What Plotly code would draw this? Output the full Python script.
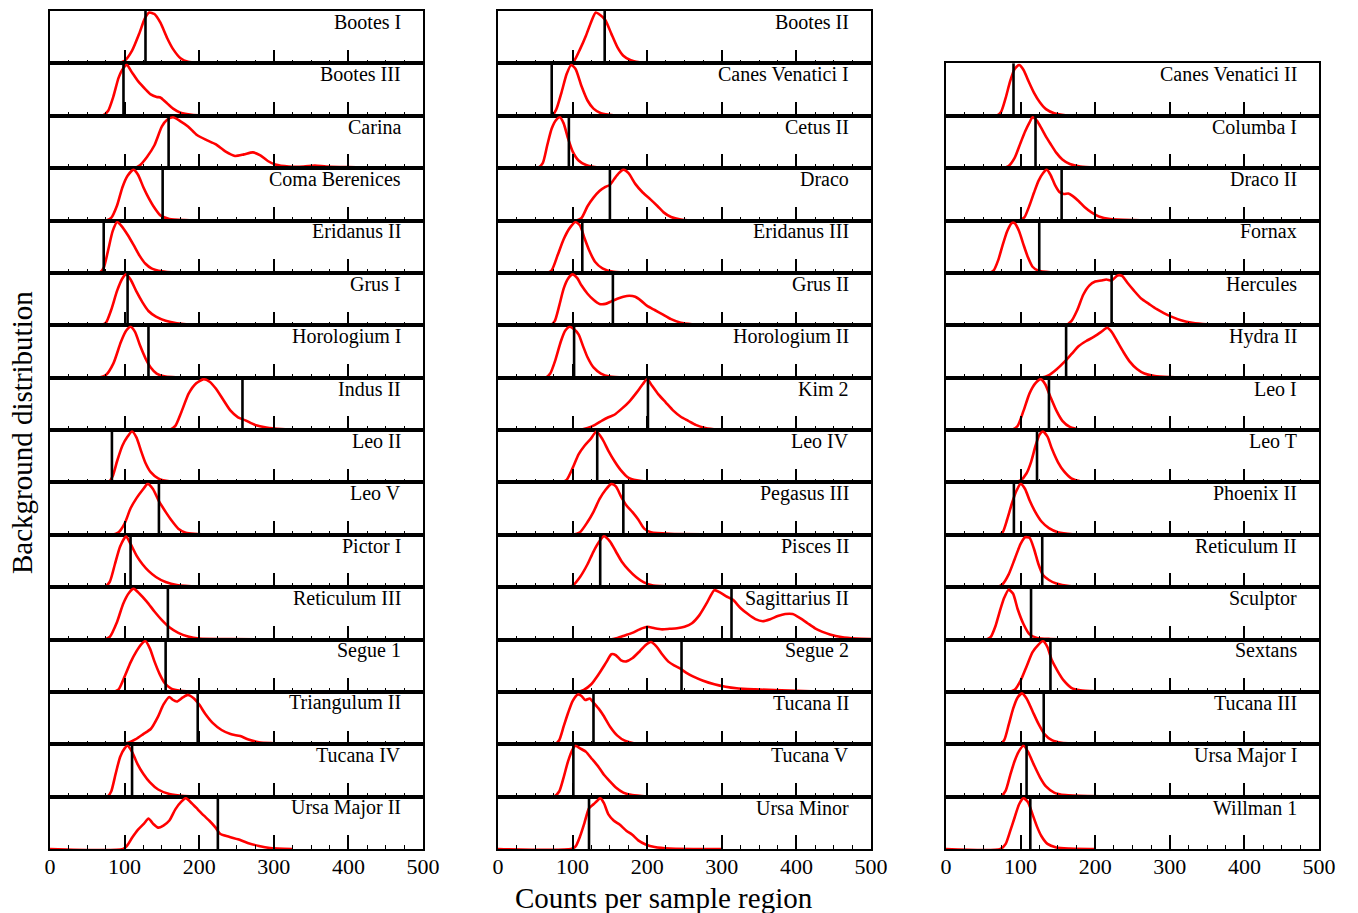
import plotly.graph_objects as go

# ---------------- data: background distributions (x = counts, y = normalised density) -------------
# column 1
bootes_i = [(0,0),(90,0),(100,0.05),(110,0.25),(120,0.6),(127,0.88),(133,1.0),(140,0.97),(148,0.8),(157,0.5),(165,0.28),(175,0.1),(185,0.03),(200,0.01),(240,0)]
bootes_iii = [(0,0),(70,0),(78,0.1),(85,0.38),(92,0.75),(98,0.93),(103,1.0),(110,0.85),(118,0.68),(128,0.52),(135,0.42),(143,0.37),(148,0.36),(155,0.27),(165,0.14),(175,0.06),(190,0.02),(235,0)]
carina = [(0,0),(112,0),(120,0.05),(130,0.22),(140,0.45),(150,0.82),(157,0.95),(165,1.0),(175,0.92),(185,0.82),(197,0.65),(210,0.55),(222,0.47),(235,0.33),(248,0.24),(260,0.27),(272,0.31),(282,0.25),(292,0.14),(302,0.07),(320,0.03),(340,0.03),(355,0.05),(370,0.03),(400,0.02),(440,0)]
coma_berenices = [(0,0),(75,0),(82,0.05),(90,0.3),(97,0.65),(104,0.88),(112,1.0),(118,0.9),(125,0.66),(132,0.45),(140,0.25),(148,0.1),(160,0.03),(180,0.01),(240,0)]
eridanus_ii = [(0,0),(66,0),(72,0.1),(78,0.45),(84,0.82),(90,1.0),(96,0.92),(104,0.75),(112,0.55),(120,0.34),(128,0.18),(136,0.09),(150,0.03),(170,0)]
grus_i = [(0,0),(68,0),(75,0.05),(82,0.3),(90,0.68),(97,0.92),(102,1.0),(108,0.9),(116,0.66),(124,0.45),(132,0.28),(142,0.17),(155,0.09),(170,0.04),(190,0.01),(215,0)]
horologium_i = [(0,0),(66,0),(75,0.05),(85,0.28),(95,0.7),(102,0.92),(108,1.0),(114,0.9),(121,0.62),(128,0.38),(135,0.2),(143,0.08),(155,0.02),(197,0)]
indus_ii = [(0,0),(160,0),(168,0.08),(176,0.35),(186,0.72),(196,0.92),(206,1.0),(214,0.95),(222,0.82),(232,0.6),(242,0.38),(252,0.25),(262,0.19),(275,0.1),(290,0.05),(310,0.02),(354,0)]
leo_ii = [(0,0),(78,0),(84,0.12),(90,0.42),(97,0.72),(104,0.9),(110,1.0),(116,0.88),(122,0.62),(128,0.38),(135,0.2),(145,0.08),(160,0.02),(225,0)]
leo_v = [(0,0),(84,0),(92,0.05),(100,0.22),(108,0.52),(116,0.72),(124,0.88),(131,1.0),(138,0.9),(146,0.66),(155,0.45),(163,0.28),(172,0.12),(182,0.04),(217,0)]
pictor_i = [(0,0),(73,0),(80,0.1),(87,0.45),(94,0.8),(102,1.0),(108,0.85),(116,0.62),(124,0.45),(132,0.32),(142,0.2),(155,0.1),(170,0.04),(200,0.01),(250,0)]
reticulum_iii = [(0,0),(72,0),(80,0.05),(90,0.35),(98,0.7),(106,0.92),(112,1.0),(120,0.9),(130,0.74),(140,0.55),(150,0.38),(160,0.24),(172,0.13),(185,0.06),(200,0.02),(240,0.01),(315,0)]
segue_1 = [(0,0),(84,0),(92,0.05),(100,0.3),(108,0.58),(116,0.8),(122,0.93),(128,1.0),(134,0.85),(140,0.6),(147,0.35),(154,0.17),(162,0.07),(175,0.02),(198,0)]
triangulum_ii = [(0,0),(92,0),(105,0.03),(115,0.1),(125,0.2),(135,0.3),(145,0.55),(152,0.78),(160,0.93),(164,0.88),(170,0.84),(178,0.92),(185,0.97),(193,0.9),(200,0.78),(208,0.6),(218,0.42),(230,0.28),(242,0.2),(255,0.16),(265,0.1),(280,0.04),(300,0.02),(328,0)]
tucana_iv = [(0,0),(77,0),(82,0.1),(88,0.45),(94,0.78),(100,0.95),(104,1.0),(110,0.88),(117,0.65),(125,0.45),(134,0.28),(145,0.14),(160,0.05),(180,0.01),(200,0)]
ursa_major_ii = [(0,0),(98,0),(104,0.08),(110,0.22),(118,0.38),(126,0.5),(132,0.6),(138,0.5),(145,0.42),(152,0.46),(160,0.56),(168,0.78),(176,0.93),(182,1.0),(190,0.9),(198,0.78),(206,0.66),(214,0.55),(222,0.42),(228,0.3),(240,0.24),(252,0.19),(265,0.12),(280,0.06),(295,0.02),(325,0)]

# column 2
bootes_ii = [(0,0),(95,0),(102,0.05),(110,0.28),(118,0.55),(125,0.82),(131,1.0),(137,0.95),(144,0.85),(152,0.58),(160,0.32),(168,0.15),(178,0.06),(195,0.01),(237,0)]
canes_venatici_i = [(0,0),(72,0),(78,0.12),(85,0.45),(92,0.82),(98,1.0),(104,0.92),(112,0.58),(120,0.3),(128,0.14),(138,0.05),(155,0.01),(186,0)]
cetus_ii = [(0,0),(53,0),(60,0.1),(66,0.45),(72,0.78),(78,0.95),(83,1.0),(88,0.88),(94,0.58),(100,0.33),(108,0.15),(118,0.06),(135,0.01),(168,0)]
draco = [(0,0),(105,0),(112,0.05),(120,0.28),(128,0.45),(136,0.58),(144,0.66),(150,0.7),(156,0.82),(162,0.93),(168,1.0),(175,0.93),(184,0.72),(194,0.55),(204,0.42),(214,0.28),(222,0.16),(232,0.07),(245,0.02),(260,0)]
eridanus_iii = [(0,0),(66,0),(72,0.05),(80,0.35),(88,0.66),(96,0.88),(104,1.0),(110,0.93),(116,0.68),(122,0.45),(130,0.22),(140,0.09),(155,0.02),(180,0)]
grus_ii = [(0,0),(70,0),(76,0.08),(82,0.38),(88,0.72),(94,0.92),(100,1.0),(106,0.93),(112,0.78),(120,0.62),(128,0.5),(136,0.42),(144,0.42),(152,0.47),(160,0.52),(168,0.56),(176,0.58),(184,0.56),(192,0.48),(200,0.38),(210,0.3),(220,0.22),(232,0.12),(245,0.05),(260,0.02),(282,0)]
horologium_ii = [(0,0),(64,0),(70,0.08),(77,0.35),(84,0.7),(90,0.92),(96,1.0),(102,0.95),(108,0.85),(114,0.62),(120,0.4),(128,0.2),(138,0.08),(150,0.02),(170,0)]
kim_2 = [(0,0),(108,0),(120,0.04),(130,0.1),(140,0.19),(148,0.25),(156,0.3),(166,0.42),(176,0.56),(186,0.74),(194,0.9),(200,1.0),(206,0.88),(215,0.7),(225,0.54),(235,0.38),(245,0.26),(255,0.18),(265,0.1),(278,0.04),(295,0.01),(310,0)]
leo_iv = [(0,0),(84,0),(92,0.05),(100,0.28),(108,0.55),(116,0.72),(124,0.85),(132,1.0),(140,0.85),(148,0.62),(156,0.42),(164,0.25),(174,0.1),(186,0.04),(200,0.01),(231,0)]
pegasus_iii = [(0,0),(100,0),(110,0.05),(120,0.25),(128,0.45),(136,0.7),(144,0.88),(152,1.0),(158,0.95),(165,0.75),(172,0.58),(180,0.45),(188,0.3),(196,0.12),(205,0.05),(230,0.02),(300,0.01),(408,0)]
pisces_ii = [(0,0),(92,0),(100,0.03),(110,0.2),(120,0.45),(128,0.7),(136,0.9),(142,1.0),(150,0.9),(158,0.7),(166,0.5),(175,0.34),(185,0.2),(195,0.1),(208,0.03),(240,0.01),(500,0)]
sagittarius_ii = [(0,0),(150,0),(160,0.03),(170,0.08),(180,0.13),(190,0.2),(200,0.25),(210,0.22),(220,0.2),(230,0.21),(240,0.22),(250,0.25),(260,0.32),(270,0.48),(280,0.72),(290,0.97),(298,0.92),(306,0.85),(315,0.78),(325,0.62),(335,0.5),(345,0.4),(355,0.36),(365,0.4),(375,0.46),(385,0.5),(395,0.5),(405,0.42),(415,0.32),(425,0.22),(435,0.15),(445,0.1),(460,0.05),(480,0.02),(500,0.01)]
segue_2 = [(0,0),(105,0),(115,0.04),(125,0.15),(135,0.35),(145,0.58),(152,0.74),(158,0.72),(165,0.62),(172,0.6),(180,0.66),(190,0.8),(198,0.92),(205,0.98),(212,0.9),(220,0.74),(228,0.6),(236,0.52),(244,0.46),(252,0.38),(262,0.3),(275,0.22),(290,0.15),(305,0.1),(320,0.07),(345,0.05),(380,0.03),(420,0.01),(495,0)]
tucana_ii = [(0,0),(76,0),(82,0.08),(88,0.35),(94,0.62),(100,0.85),(107,0.98),(112,0.95),(117,0.87),(123,0.9),(128,0.82),(135,0.7),(142,0.55),(150,0.35),(160,0.17),(170,0.07),(182,0.02),(197,0)]
tucana_v = [(0,0),(75,0),(82,0.1),(88,0.38),(94,0.7),(100,0.93),(104,1.0),(110,0.95),(118,0.88),(126,0.74),(134,0.6),(142,0.43),(150,0.3),(158,0.18),(168,0.08),(180,0.03),(200,0)]
ursa_minor = [(0,0),(98,0),(104,0.05),(110,0.25),(116,0.52),(122,0.8),(128,0.88),(133,0.95),(137,1.0),(142,0.9),(148,0.68),(155,0.56),(163,0.48),(172,0.36),(180,0.28),(188,0.17),(198,0.09),(210,0.04),(230,0.01),(300,0)]

# column 3
canes_venatici_ii = [(0,0),(68,0),(74,0.08),(80,0.35),(86,0.68),(92,0.92),(98,1.0),(104,0.9),(110,0.7),(118,0.45),(126,0.26),(134,0.13),(145,0.05),(160,0.01),(180,0)]
columba_i = [(0,0),(76,0),(84,0.04),(92,0.2),(100,0.5),(106,0.72),(112,0.9),(116,1.0),(122,0.93),(128,0.78),(134,0.62),(140,0.48),(148,0.3),(156,0.17),(166,0.08),(180,0.03),(200,0.01),(242,0)]
draco_ii = [(0,0),(98,0),(105,0.06),(112,0.3),(118,0.55),(124,0.78),(130,0.93),(135,1.0),(140,0.9),(146,0.7),(152,0.56),(158,0.52),(164,0.53),(170,0.48),(178,0.38),(186,0.26),(195,0.16),(205,0.08),(220,0.03),(250,0.01),(296,0)]
fornax = [(0,0),(58,0),(64,0.05),(70,0.25),(76,0.55),(82,0.82),(88,0.98),(92,0.98),(98,0.82),(104,0.55),(110,0.3),(116,0.12),(124,0.04),(140,0.01),(162,0)]
hercules = [(0,0),(160,0),(168,0.08),(176,0.3),(184,0.6),(192,0.78),(200,0.86),(208,0.88),(215,0.9),(222,0.88),(230,0.98),(236,0.97),(244,0.82),(252,0.68),(262,0.52),(272,0.42),(282,0.32),(292,0.24),(302,0.17),(315,0.1),(330,0.05),(350,0.02),(395,0)]
hydra_ii = [(0,0),(128,0),(138,0.05),(148,0.16),(158,0.3),(168,0.46),(178,0.62),(188,0.72),(198,0.8),(208,0.9),(216,0.98),(222,0.9),(230,0.7),(238,0.5),(246,0.32),(256,0.17),(266,0.08),(280,0.03),(300,0.01),(320,0)]
leo_i = [(0,0),(88,0),(96,0.08),(104,0.38),(112,0.72),(120,0.92),(127,1.0),(133,0.9),(140,0.65),(148,0.38),(156,0.18),(166,0.06),(180,0.01),(200,0)]
leo_t = [(0,0),(92,0),(100,0.04),(108,0.18),(114,0.4),(120,0.72),(125,0.93),(130,1.0),(136,0.9),(142,0.66),(150,0.4),(158,0.22),(168,0.08),(180,0.02),(193,0)]
phoenix_ii = [(0,0),(70,0),(76,0.05),(82,0.3),(88,0.6),(94,0.85),(100,1.0),(106,0.9),(112,0.68),(120,0.44),(128,0.26),(138,0.13),(150,0.05),(170,0.01),(200,0)]
reticulum_ii = [(0,0),(68,0),(76,0.06),(84,0.25),(92,0.55),(100,0.85),(106,0.98),(112,0.97),(118,0.75),(124,0.45),(130,0.24),(138,0.14),(148,0.07),(165,0.02),(200,0.01),(242,0)]
sculptor = [(0,0),(54,0),(60,0.05),(66,0.25),(72,0.55),(78,0.82),(84,0.98),(90,0.9),(96,0.6),(104,0.3),(112,0.1),(122,0.03),(140,0.01),(172,0)]
sextans = [(0,0),(84,0),(92,0.04),(100,0.22),(108,0.5),(116,0.78),(124,0.93),(130,1.0),(136,0.88),(142,0.62),(150,0.4),(158,0.22),(168,0.08),(180,0.03),(200,0.01),(253,0)]
tucana_iii = [(0,0),(72,0),(78,0.08),(84,0.38),(90,0.7),(96,0.92),(102,1.0),(108,0.9),(116,0.65),(124,0.4),(132,0.2),(142,0.08),(155,0.03),(197,0)]
ursa_major_i = [(0,0),(73,0),(80,0.12),(86,0.42),(92,0.7),(98,0.9),(104,1.0),(110,0.88),(118,0.62),(126,0.38),(134,0.2),(145,0.08),(160,0.03),(190,0.01),(270,0)]
willman_1 = [(0,0),(73,0),(80,0.1),(86,0.35),(92,0.62),(98,0.88),(104,1.0),(110,0.92),(116,0.68),(122,0.44),(128,0.25),(136,0.1),(148,0.03),(165,0.01),(200,0)]

# panel names, observed counts (black lines) and curves, per column
col1_names = ["Bootes I", "Bootes III", "Carina", "Coma Berenices", "Eridanus II", "Grus I",
              "Horologium I", "Indus II", "Leo II", "Leo V", "Pictor I", "Reticulum III",
              "Segue 1", "Triangulum II", "Tucana IV", "Ursa Major II"]
col1_obs = [128, 98.5, 159, 151, 72, 104, 132, 258, 83, 146, 108, 158, 155, 198, 110, 225]
col1_curves = [bootes_i, bootes_iii, carina, coma_berenices, eridanus_ii, grus_i, horologium_i,
               indus_ii, leo_ii, leo_v, pictor_i, reticulum_iii, segue_1, triangulum_ii,
               tucana_iv, ursa_major_ii]

col2_names = ["Bootes II", "Canes Venatici I", "Cetus II", "Draco", "Eridanus III", "Grus II",
              "Horologium II", "Kim 2", "Leo IV", "Pegasus III", "Pisces II", "Sagittarius II",
              "Segue 2", "Tucana II", "Tucana V", "Ursa Minor"]
col2_obs = [143, 72, 95, 150, 113, 154, 102, 201, 133, 168, 137, 313, 246, 128, 101, 122]
col2_curves = [bootes_ii, canes_venatici_i, cetus_ii, draco, eridanus_iii, grus_ii, horologium_ii,
               kim_2, leo_iv, pegasus_iii, pisces_ii, sagittarius_ii, segue_2, tucana_ii,
               tucana_v, ursa_minor]

col3_names = ["Canes Venatici II", "Columba I", "Draco II", "Fornax", "Hercules", "Hydra II",
              "Leo I", "Leo T", "Phoenix II", "Reticulum II", "Sculptor", "Sextans",
              "Tucana III", "Ursa Major I", "Willman 1"]
col3_obs = [90.5, 120, 155, 125, 222, 161, 138, 122, 91, 129, 114, 140, 131, 108, 113]
col3_curves = [canes_venatici_ii, columba_i, draco_ii, fornax, hercules, hydra_ii, leo_i, leo_t,
               phoenix_ii, reticulum_ii, sculptor, sextans, tucana_iii, ursa_major_i, willman_1]

x_ticks = [0, 100, 200, 300, 400, 500]

# ---------------- layout ----------------
W, H = 1358, 913
ML, MR, MT, MB = 50, 39, 9, 64
PW = W - ML - MR
PH = H - MT - MB
col_px = [(50, 423), (498, 871), (946, 1319)]
col_dom = [((a - ML) / PW, (b - ML) / PW) for a, b in col_px]
NROWS = 16
ROW_PX = PH / NROWS

SERIF = "Liberation Serif, Times New Roman, serif"

fig = go.Figure()
layout = dict(
    width=W, height=H,
    margin=dict(l=ML, r=MR, t=MT, b=MB),
    paper_bgcolor="white", plot_bgcolor="white",
    showlegend=False,
    font=dict(family=SERIF, color="black"),
)
annotations = []
shapes = []

columns = [
    (col1_names, col1_obs, col1_curves, 0),
    (col2_names, col2_obs, col2_curves, 0),
    (col3_names, col3_obs, col3_curves, 1),
]

k = 0
for ci, (names, obs, curves, row_offset) in enumerate(columns):
    for ri, (name, ob, curve) in enumerate(zip(names, obs, curves)):
        k += 1
        row = ri + row_offset
        sx = "" if k == 1 else str(k)
        xs = [p[0] for p in curve]
        ys = [p[1] for p in curve]
        fig.add_trace(go.Scatter(
            x=xs, y=ys, mode="lines",
            line=dict(color="#ff0000", width=2.6, shape="spline", smoothing=0.6),
            xaxis="x" + sx, yaxis="y" + sx, hoverinfo="skip",
        ))
        y1 = 1 - row / NROWS
        y0 = 1 - (row + 1) / NROWS
        bottom = (row == NROWS - 1)
        layout["xaxis" + sx] = dict(
            domain=list(col_dom[ci]), anchor="y" + sx, range=[0, 500],
            showline=True, mirror=True, linecolor="black", linewidth=1.5,
            ticks="inside", ticklen=14, tickwidth=1.5, tickcolor="black",
            tickvals=x_ticks, showticklabels=bottom, ticklabelstandoff=-3,
            tickfont=dict(family=SERIF, size=22, color="black"),
            minor=dict(ticks="inside", ticklen=4, tickwidth=1, tickcolor="black", dtick=25, tick0=0),
            showgrid=False, zeroline=False,
        )
        layout["yaxis" + sx] = dict(
            domain=[y0, y1], anchor="x" + sx, range=[0, 1.03],
            showline=True, mirror=True, linecolor="black", linewidth=1.5,
            ticks="", showticklabels=False, showgrid=False, zeroline=False,
        )
        shapes.append(dict(
            type="line", xref="x" + sx, yref="y" + sx + " domain",
            x0=ob, x1=ob, y0=0, y1=1, line=dict(color="black", width=2.6), layer="above",
        ))
        annotations.append(dict(
            text=name, xref="x" + sx + " domain", yref="y" + sx + " domain",
            x=0.946, y=1 - 11.0 / ROW_PX, xanchor="right", yanchor="middle", showarrow=False,
            font=dict(family=SERIF, size=20, color="black"),
        ))

annotations.append(dict(
    text="Counts per sample region", xref="paper", yref="paper",
    x=(664 - ML) / PW, y=(849 - 898) / PH, xanchor="center", yanchor="middle", showarrow=False,
    font=dict(family=SERIF, size=29, color="black"),
))
annotations.append(dict(
    text="Background distribution", xref="paper", yref="paper",
    x=(22 - ML) / PW, y=(849 - 432) / PH, xanchor="center", yanchor="middle", showarrow=False,
    textangle=-90,
    font=dict(family=SERIF, size=29, color="black"),
))

layout["annotations"] = annotations
layout["shapes"] = shapes
fig.update_layout(**layout)
fig.write_html("out.html")
